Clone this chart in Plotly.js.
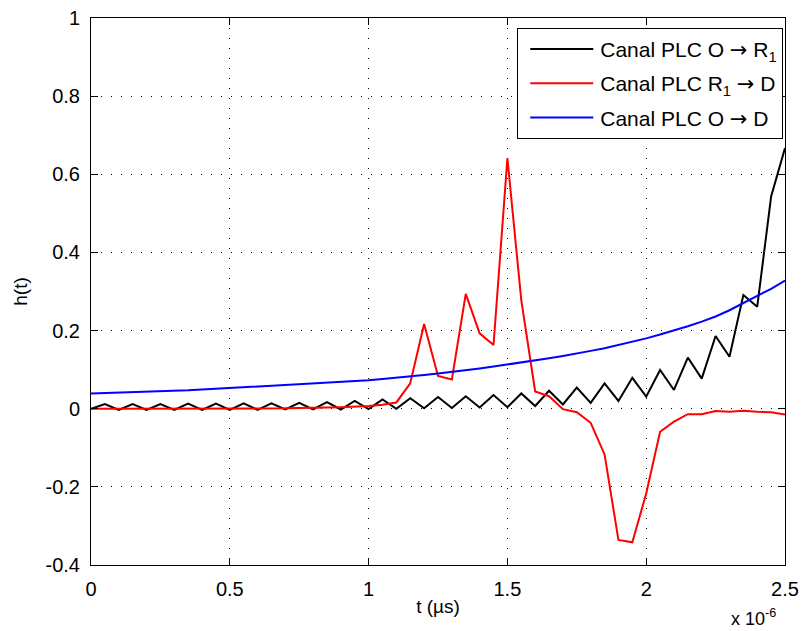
<!DOCTYPE html>
<html>
<head>
<meta charset="utf-8">
<script src="https://cdn.plot.ly/plotly-3.0.1.min.js"></script>
<style>html,body{margin:0;padding:0;background:#fff}#chart{width:801px;height:631px}</style>
</head>
<body>
<div id="chart"></div>
<script>
// time samples in microseconds (axis shows seconds x 10^-6)
var t_us = [0,0.05,0.1,0.15,0.2,0.25,0.3,0.35,0.4,0.45,0.5,0.55,0.6,0.65,0.7,0.75,0.8,0.85,0.9,0.95,
            1.0,1.05,1.1,1.15,1.2,1.25,1.3,1.35,1.4,1.45,1.5,1.55,1.6,1.65,1.7,1.75,1.8,1.85,1.9,1.95,
            2.0,2.05,2.1,2.15,2.2,2.25,2.3,2.35,2.4,2.45,2.5];

var h_O_R1 = [0,0.012,-0.003,0.012,-0.003,0.012,-0.003,0.013,-0.003,0.013,-0.003,0.014,-0.003,0.014,-0.002,0.015,-0.002,0.017,-0.002,0.020,
              -0.001,0.024,0.000,0.027,0.001,0.030,0.002,0.032,0.003,0.035,0.004,0.039,0.007,0.046,0.011,0.054,0.015,0.065,0.020,0.079,
              0.031,0.099,0.048,0.131,0.077,0.186,0.133,0.291,0.261,0.543,0.667];

var h_R1_D = [0,0,0,0,0,0,0,0,0,0,0,0,0.001,0.001,0.001,0.002,0.002,0.003,0.004,0.005,
              0.007,0.010,0.016,0.065,0.217,0.084,0.075,0.294,0.193,0.163,0.641,0.278,0.044,0.032,-0.001,-0.009,-0.036,-0.117,-0.336,-0.342,
              -0.217,-0.059,-0.033,-0.014,-0.014,-0.006,-0.008,-0.005,-0.008,-0.009,-0.015];

var h_O_D = [0.039,0.040,0.041,0.042,0.043,0.045,0.046,0.047,0.049,0.051,0.053,0.054,0.056,0.058,0.060,0.062,0.064,0.066,0.068,0.071,
             0.073,0.076,0.079,0.083,0.086,0.090,0.094,0.098,0.103,0.108,0.113,0.118,0.123,0.129,0.135,0.141,0.148,0.155,0.163,0.171,
             0.180,0.190,0.200,0.211,0.223,0.236,0.252,0.270,0.288,0.307,0.328];

var xTickVals = [0,0.5,1,1.5,2,2.5];
var xTickText = ['0','0.5','1','1.5','2','2.5'];
var yTickVals = [-0.4,-0.2,0,0.2,0.4,0.6,0.8,1];
var yTickText = ['-0.4','-0.2','0','0.2','0.4','0.6','0.8','1'];

var arrow = '<span style="font-family:DejaVu Sans">\u2192</span>';
var names = ['Canal PLC O ' + arrow + ' R<sub>1</sub>', 'Canal PLC R<sub>1</sub> ' + arrow + ' D', 'Canal PLC O ' + arrow + ' D'];
var colors = ['#000000','#ff0000','#0000ff'];
var series = [h_O_R1, h_R1_D, h_O_D];

var traces = series.map(function(s,i){
  return {x: t_us, y: s, type:'scatter', mode:'lines', name: names[i], legendgroup: 'g'+i,
          line:{color: colors[i], width: 2}};
});

var fam = 'Liberation Sans, Arial, sans-serif';
var tickFont = {family:fam, size:20, color:'#000'};
var titleFont = {family:fam, size:19, color:'#000'};
var layout = {
  width: 801, height: 631,
  margin: {l:91, r:16, t:18, b:66},
  paper_bgcolor:'#fff', plot_bgcolor:'#fff',
  font: titleFont,
  showlegend: true,
  legend: {x:0.9975, xanchor:'right', y:0.982, yanchor:'top', bgcolor:'#fff',
           bordercolor:'#000', borderwidth:1, font:{family:fam, size:21, color:'#000'},
           tracegroupgap: 4, itemwidth: 72},
  xaxis: {range:[0,2.5], tickvals:xTickVals, ticktext:xTickText, ticks:'inside', ticklen:7,
          tickcolor:'#000', showline:true, linecolor:'#000', linewidth:1, mirror:'ticks',
          showgrid:true, gridcolor:'#000', griddash:'1px,9px', gridwidth:1, zeroline:false,
          ticklabelstandoff: 6,
          title:{text:'t (\u00b5s)', font:titleFont, standoff:0}, tickfont:tickFont},
  yaxis: {range:[-0.4,1], tickvals:yTickVals, ticktext:yTickText, ticks:'inside', ticklen:7,
          tickcolor:'#000', showline:true, linecolor:'#000', linewidth:1, mirror:'ticks',
          showgrid:true, gridcolor:'#000', griddash:'1px,9px', gridwidth:1, zeroline:false,
          ticklabelstandoff: 6,
          title:{text:'h(t)', font:titleFont, standoff:12}, tickfont:tickFont},
  annotations: [{xref:'paper', yref:'paper', x:0.99, y:-0.096, xanchor:'right', yanchor:'middle',
                 text:'x 10<sup>-6</sup>', showarrow:false, font:{family:fam, size:18, color:'#000'}}]
};
Plotly.newPlot('chart', traces, layout, {displayModeBar:false, staticPlot:true}).then(function(){
  document.querySelectorAll('.legend .legendlines path').forEach(function(p){
    p.setAttribute('d','M12,0h63');
  });
});
</script>
</body>
</html>
